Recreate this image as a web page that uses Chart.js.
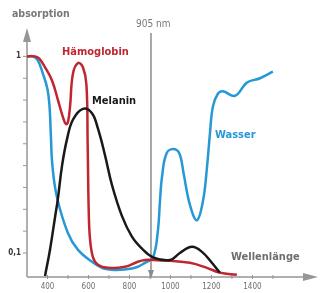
<!DOCTYPE html>
<html>
<head>
<meta charset="utf-8">
<script src="https://cdn.jsdelivr.net/npm/chart.js@4.4.0/dist/chart.umd.min.js"></script>
<style>
  html, body { margin: 0; padding: 0; background: #fff; }
  #wrap { width: 326px; height: 293px; }
</style>
</head>
<body>
<div id="wrap"><canvas id="my-chart" width="326" height="293"></canvas></div>
<script>
// wavelengths (nm) and absorption values
const wasserNm  = [300, 330, 354, 378, 400, 410, 416, 424, 446, 500, 549, 617, 680, 754, 827, 876, 915, 939, 949, 959, 983, 1022, 1046, 1065, 1095, 1129, 1159, 1178, 1193, 1207, 1232, 1256, 1315, 1373, 1437, 1500];
const wasserAbs = [1.0, 1.0, 0.98, 0.92, 0.85, 0.77, 0.65, 0.5, 0.356, 0.19, 0.114, 0.06, 0.027, 0.023, 0.032, 0.055, 0.08, 0.205, 0.34, 0.45, 0.56, 0.575, 0.55, 0.46, 0.32, 0.25, 0.34, 0.49, 0.65, 0.77, 0.83, 0.84, 0.82, 0.88, 0.90, 0.93];

const haemoNm  = [300, 340, 360, 388, 422, 451, 476, 490, 500, 510, 524, 549, 573, 590, 596, 601, 607, 622, 646, 695, 778, 841, 876, 915, 998, 1095, 1178, 1241, 1324];
const haemoAbs = [1.0, 1.0, 0.99, 0.95, 0.89, 0.80, 0.72, 0.69, 0.70, 0.77, 0.92, 0.97, 0.95, 0.87, 0.6, 0.3, 0.17, 0.08, 0.046, 0.032, 0.037, 0.06, 0.068, 0.068, 0.064, 0.055, 0.032, 0.01, 0.0];

const melaninNm  = [388, 412, 437, 451, 471, 495, 524, 573, 617, 646, 680, 715, 763, 812, 861, 915, 998, 1046, 1105, 1154, 1202, 1241];
const melaninAbs = [-0.005, 0.114, 0.265, 0.35, 0.5, 0.62, 0.71, 0.76, 0.74, 0.67, 0.55, 0.41, 0.27, 0.175, 0.12, 0.08, 0.068, 0.10, 0.128, 0.105, 0.055, 0.01];

const xTickLabels = [400, 600, 800, 1000, 1200, 1400];
const xMinorTicks = [400, 500, 600, 700, 800, 900, 1000, 1100, 1200, 1300, 1400, 1500];
const yMinorTicks = [0.1, 0.2, 0.3, 0.4, 0.5, 0.6, 0.7, 0.8, 0.9, 1.0];
const yTickLabels = [[1, '1'], [0.1, '0,1']];
const markerNm = 905;

const BLUE = 'rgb(38,152,214)';
const RED = 'rgb(192,38,48)';
const BLACK = 'rgb(25,25,25)';
const GREY = 'rgb(150,150,150)';

function pts(xs, ys) {
  return xs.map((x, i) => ({ x: x, y: ys[i] }));
}

const axesPlugin = {
  id: 'axes',
  beforeDatasetsDraw(chart) {
    const ctx = chart.ctx;
    const xs = chart.scales.x, ys = chart.scales.y;
    const a = chart.chartArea;
    const y0 = a.bottom, x0 = a.left;
    ctx.save();
    ctx.strokeStyle = GREY;
    ctx.fillStyle = GREY;
    ctx.lineWidth = 1.5;
    // axes
    ctx.beginPath();
    ctx.moveTo(x0, y0); ctx.lineTo(a.right - 12, y0);
    ctx.moveTo(x0, y0); ctx.lineTo(x0, a.top + 8);
    ctx.stroke();
    // arrow heads
    ctx.beginPath();
    ctx.moveTo(a.right, y0); ctx.lineTo(a.right - 15, y0 - 4); ctx.lineTo(a.right - 15, y0 + 4); ctx.closePath();
    ctx.fill();
    ctx.beginPath();
    ctx.moveTo(x0, a.top); ctx.lineTo(x0 - 4, a.top + 14); ctx.lineTo(x0 + 4, a.top + 14); ctx.closePath();
    ctx.fill();
    // ticks
    ctx.lineWidth = 1;
    ctx.beginPath();
    xMinorTicks.forEach(v => {
      const px = xs.getPixelForValue(v);
      ctx.moveTo(px, y0 - 2); ctx.lineTo(px, y0 + 2);
    });
    yMinorTicks.forEach(v => {
      const py = ys.getPixelForValue(v);
      ctx.moveTo(x0 - 4, py); ctx.lineTo(x0, py);
    });
    ctx.stroke();
    // 905 nm line
    const mx = xs.getPixelForValue(markerNm);
    ctx.strokeStyle = 'rgb(140,140,140)';
    ctx.lineWidth = 1.5;
    ctx.beginPath();
    ctx.moveTo(mx, a.top + 5); ctx.lineTo(mx, y0 - 4);
    ctx.stroke();
    ctx.fillStyle = 'rgb(140,140,140)';
    ctx.beginPath();
    ctx.moveTo(mx, y0 + 2); ctx.lineTo(mx - 3, y0 - 7); ctx.lineTo(mx + 3, y0 - 7); ctx.closePath();
    ctx.fill();
    ctx.restore();
  },
  afterDatasetsDraw(chart) {
    const ctx = chart.ctx;
    const xs = chart.scales.x, ys = chart.scales.y;
    const a = chart.chartArea;
    ctx.save();
    ctx.textBaseline = 'middle';
    // tick labels
    ctx.font = '8px "DejaVu Sans Condensed", sans-serif';
    ctx.fillStyle = 'rgb(110,110,110)';
    ctx.textAlign = 'center';
    xTickLabels.forEach(v => ctx.fillText(String(v), xs.getPixelForValue(v), a.bottom + 10));
    ctx.font = 'bold 8px "DejaVu Sans Condensed", sans-serif';
    ctx.fillStyle = 'rgb(60,60,60)';
    ctx.textAlign = 'right';
    yTickLabels.forEach(t => ctx.fillText(t[1], a.left - 6, ys.getPixelForValue(t[0])));
    // titles
    ctx.textAlign = 'left';
    ctx.font = 'bold 10.5px "DejaVu Sans Condensed", sans-serif';
    ctx.fillStyle = 'rgb(120,120,120)';
    ctx.fillText('absorption', 12, 14);
    ctx.font = '10px "DejaVu Sans Condensed", sans-serif';
    ctx.fillStyle = 'rgb(120,120,120)';
    ctx.fillText('905 nm', 136, 24);
    ctx.font = 'bold 11px "DejaVu Sans Condensed", sans-serif';
    ctx.fillStyle = RED;
    ctx.fillText('Hämoglobin', 62, 52);
    ctx.fillStyle = BLACK;
    ctx.fillText('Melanin', 92, 101);
    ctx.fillStyle = BLUE;
    ctx.fillText('Wasser', 215, 135);
    ctx.fillStyle = 'rgb(110,110,110)';
    ctx.fillText('Wellenlänge', 231, 257);
    ctx.restore();
  }
};

const ctx = document.getElementById('my-chart').getContext('2d');
const chart = new Chart(ctx, {
  type: 'line',
  data: {
    datasets: [
      { label: 'Melanin', data: pts(melaninNm, melaninAbs), borderColor: BLACK },
      { label: 'Hämoglobin', data: pts(haemoNm, haemoAbs), borderColor: RED },
      { label: 'Wasser', data: pts(wasserNm, wasserAbs), borderColor: BLUE }
    ]
  },
  options: {
    responsive: false,
    animation: false,
    layout: { padding: { left: 27, right: 8, top: 28, bottom: 16 } },
    elements: {
      point: { radius: 0 },
      line: { borderWidth: 2.5, tension: 0.4, capBezierPoints: true, fill: false }
    },
    plugins: { legend: { display: false }, tooltip: { enabled: false } },
    scales: {
      x: { type: 'linear', min: 300, max: 1720, display: false },
      y: { type: 'linear', min: -0.01, max: 1.13, display: false }
    }
  },
  plugins: [axesPlugin]
});
</script>
</body>
</html>
